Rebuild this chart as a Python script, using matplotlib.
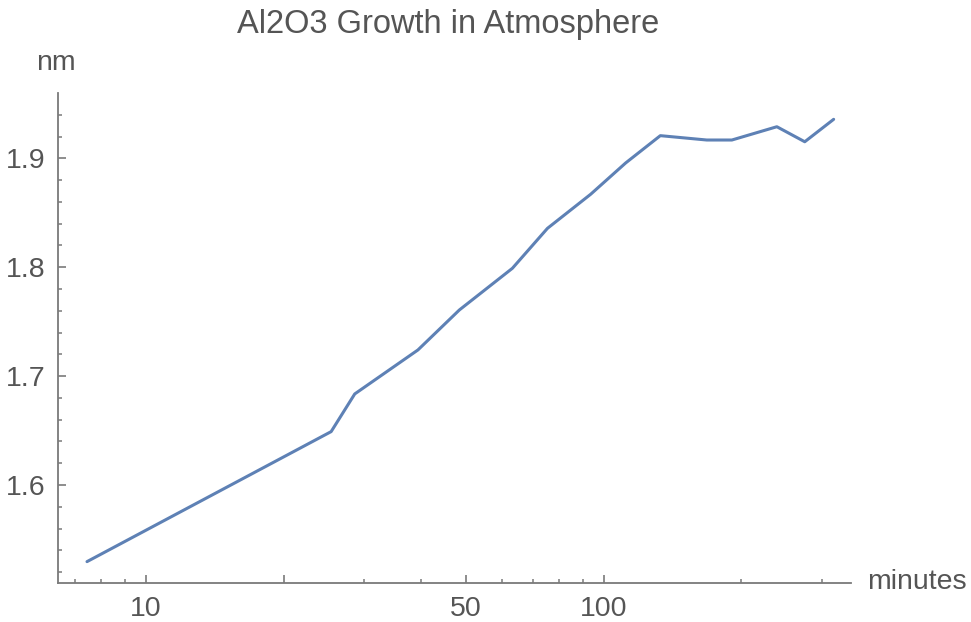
import matplotlib.pyplot as plt
from matplotlib.ticker import FixedLocator, NullFormatter

plt.rcParams['font.family'] = ['Liberation Sans', 'DejaVu Sans']

# growth data: time in minutes, oxide thickness in nm
minutes = [7.44, 25.4, 28.6, 39.3, 48.4, 63.2, 75.4, 93.7, 111.7, 133, 168, 190.6, 239, 275, 318]
thickness = [1.5296, 1.649, 1.6836, 1.724, 1.7607, 1.799, 1.8357, 1.867, 1.8957,
             1.9208, 1.9168, 1.9168, 1.929, 1.9152, 1.9358]

x_major = [10, 20, 50, 100]
x_major_labels = ['10', '', '50', '100']
x_minor = [7, 8, 9, 30, 40, 60, 70, 80, 90, 200, 300]
y_major = [1.6, 1.7, 1.8, 1.9]
y_minor = [1.52, 1.54, 1.56, 1.58, 1.62, 1.64, 1.66, 1.68, 1.72, 1.74, 1.76, 1.78,
           1.82, 1.84, 1.86, 1.88, 1.92, 1.94]

text_color = '#555555'
axis_color = '#7a7a7a'

fig = plt.figure(figsize=(9.71, 6.22), dpi=100)
ax = fig.add_axes([58/971, 1-583.3/622, (851-58)/971, (583.3-93.3)/622])

ax.plot(minutes, thickness, color='#5E81B5', linewidth=2.2, solid_joinstyle='round',
        solid_capstyle='round')

ax.set_xscale('log')
ax.set_xlim(6.43, 347)
ax.set_ylim(1.5097, 1.9597)

ax.xaxis.set_major_locator(FixedLocator(x_major))
ax.set_xticks(x_major, x_major_labels)
ax.xaxis.set_minor_locator(FixedLocator(x_minor))
ax.xaxis.set_minor_formatter(NullFormatter())
ax.set_yticks(y_major, ['1.6', '1.7', '1.8', '1.9'])
ax.yaxis.set_minor_locator(FixedLocator(y_minor))

# only left and bottom axes, ticks pointing inward
ax.spines['right'].set_color('none')
ax.spines['top'].set_color('none')
for side in ['left', 'bottom']:
    ax.spines[side].set_color(axis_color)
    ax.spines[side].set_linewidth(1.3)

ax.tick_params(which='major', direction='in', length=6, width=1.2, color=axis_color,
               labelsize=20.5, labelcolor=text_color, pad=9)
ax.tick_params(which='minor', direction='in', length=3, width=1.1, color=axis_color)

fig.text(448/971, 1-24/622, 'Al2O3 Growth in Atmosphere', ha='center', va='center',
         fontsize=23.5, color=text_color)
fig.text(56/971, 1-70/622, 'nm', ha='center', va='baseline', fontsize=20.5, color=text_color)
fig.text(867/971, 1-582/622, 'minutes', ha='left', va='center', fontsize=20.5, color=text_color)

fig.savefig('out.png', dpi=100)
